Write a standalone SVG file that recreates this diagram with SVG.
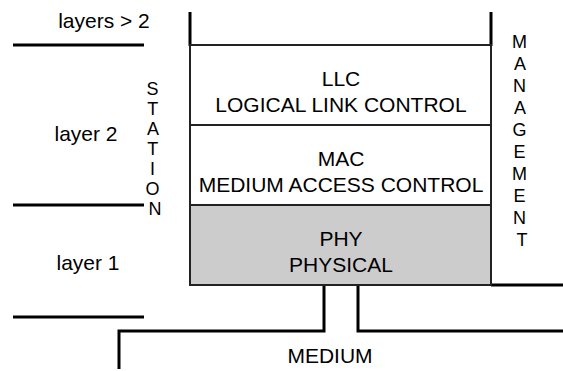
<svg xmlns="http://www.w3.org/2000/svg" width="563" height="371" viewBox="0 0 563 371">
  <style>
    .bg { fill: #ffffff; }
    .wire { fill: none; stroke: #000000; stroke-width: 3; stroke-linecap: butt; stroke-linejoin: miter; }
    .box { fill: #ffffff; stroke: #222222; stroke-width: 2; }
    .box.phy { fill: #cccccc; }
    text { font-family: "Liberation Sans", Arial, sans-serif; font-size: 21px; fill: #000000; }
    .c { text-anchor: middle; }
    .v { font-size: 18px; }
  </style>
  <rect class="bg" x="0" y="0" width="563" height="371"/>

  <!-- layer boundary rules and links to the medium -->
  <g id="connectors">
    <line class="wire" x1="13" y1="45" x2="144" y2="45"/>
    <line class="wire" x1="13" y1="205" x2="144" y2="205"/>
    <line class="wire" x1="13" y1="317" x2="144" y2="317"/>
    <line class="wire" x1="190" y1="12" x2="190" y2="46"/>
    <line class="wire" x1="491" y1="12" x2="491" y2="46"/>
    <line class="wire" x1="491" y1="285" x2="563" y2="285"/>
    <polyline class="wire" points="324,286 324,331 119,331 119,369"/>
    <polyline class="wire" points="358,286 358,331 563,331"/>
  </g>

  <!-- protocol stack -->
  <g id="llc">
    <rect class="box" x="190" y="45" width="301" height="80"/>
    <text class="c" x="341" y="86">LLC</text>
    <text class="c" x="341" y="112">LOGICAL LINK CONTROL</text>
  </g>
  <g id="mac">
    <rect class="box" x="190" y="125" width="301" height="80"/>
    <text class="c" x="341" y="166">MAC</text>
    <text class="c" x="341" y="192">MEDIUM ACCESS CONTROL</text>
  </g>
  <g id="phy">
    <rect class="box phy" x="190" y="205" width="301" height="80"/>
    <text class="c" x="341" y="246">PHY</text>
    <text class="c" x="341" y="272">PHYSICAL</text>
  </g>

  <!-- side labels -->
  <g id="layer-labels">
    <text class="c" x="104" y="28">layers &gt; 2</text>
    <text class="c" x="86" y="141">layer 2</text>
    <text class="c" x="88" y="270">layer 1</text>
  </g>
  <g id="station">
    <text class="c v" x="155">
      <tspan x="155" y="95">S</tspan>
      <tspan x="155" y="115">T</tspan>
      <tspan x="155" y="135">A</tspan>
      <tspan x="155" y="155">T</tspan>
      <tspan x="155" y="175">I</tspan>
      <tspan x="155" y="195">O</tspan>
      <tspan x="155" y="215">N</tspan>
    </text>
  </g>
  <g id="management">
    <text class="c v" x="522">
      <tspan x="522" y="48">M</tspan>
      <tspan x="522" y="70">A</tspan>
      <tspan x="522" y="92">N</tspan>
      <tspan x="522" y="114">A</tspan>
      <tspan x="522" y="136">G</tspan>
      <tspan x="522" y="158">E</tspan>
      <tspan x="522" y="180">M</tspan>
      <tspan x="522" y="202">E</tspan>
      <tspan x="522" y="224">N</tspan>
      <tspan x="522" y="246">T</tspan>
    </text>
  </g>
  <g id="medium">
    <text class="c" x="330" y="363">MEDIUM</text>
  </g>
</svg>
